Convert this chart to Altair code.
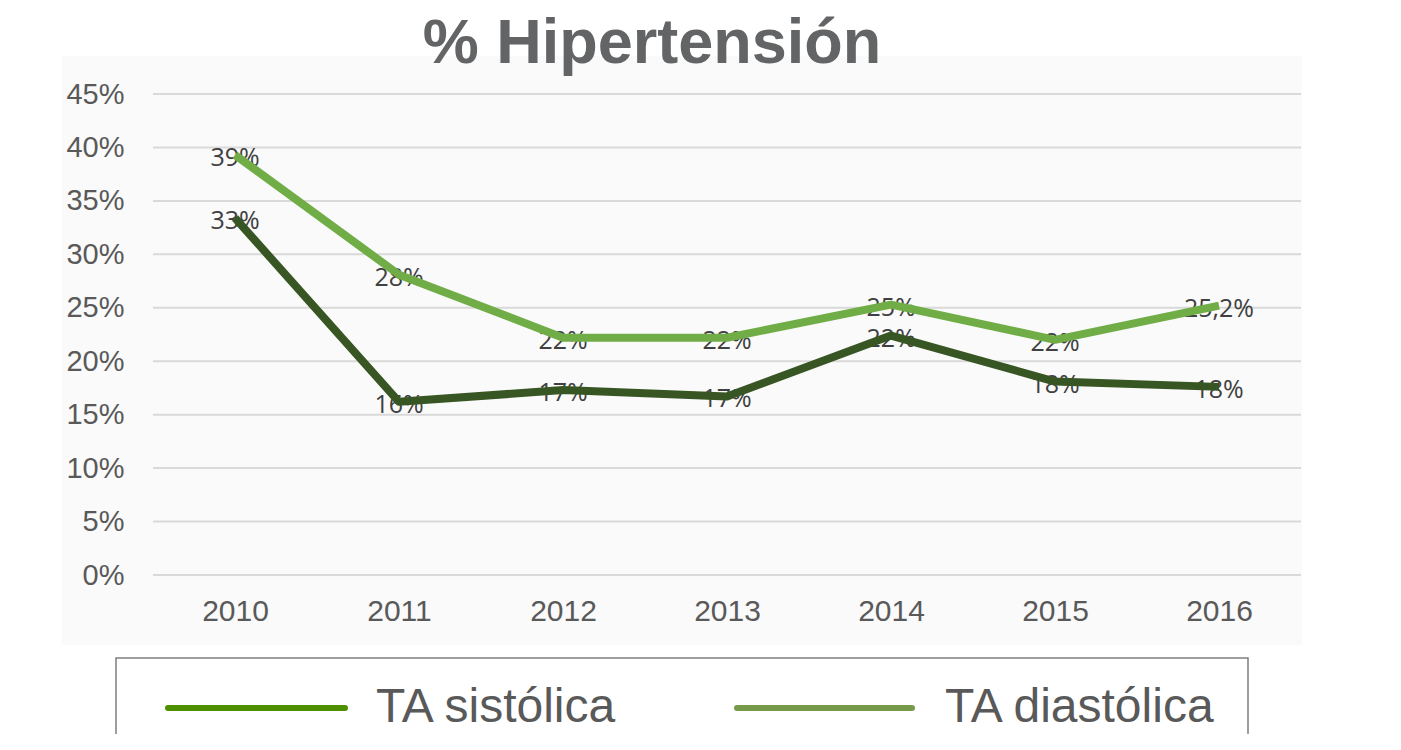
import altair as alt
import pandas as pd

# ---- data ----
years = ["2010", "2011", "2012", "2013", "2014", "2015", "2016"]
sistolica = [0.334, 0.162, 0.173, 0.167, 0.224, 0.181, 0.176]
diastolica = [0.393, 0.281, 0.222, 0.222, 0.253, 0.220, 0.252]
sis_labels = ["33%", "16%", "17%", "17%", "22%", "18%", "18%"]
dia_labels = ["39%", "28%", "22%", "22%", "25%", "22%", "25,2%"]
series_names = ["TA sistólica", "TA diastólica"]
line_colors = ["#375623", "#70ad47"]
legend_colors = ["#4e8f00", "#77994a"]
y_ticks = [0, 0.05, 0.10, 0.15, 0.20, 0.25, 0.30, 0.35, 0.40, 0.45]
title_text = ["% Hipertensión"]

rows = []
for i, yr in enumerate(years):
    rows.append({"year": yr, "serie": series_names[1], "value": diastolica[i], "label": dia_labels[i]})
    rows.append({"year": yr, "serie": series_names[0], "value": sistolica[i], "label": sis_labels[i]})
df = pd.DataFrame(rows)

W, H = 1148, 481
GRAY = "#595959"

xs = alt.Scale(type="point", padding=0.5, domain=years)
ys = alt.Scale(domain=[0, 0.45], nice=False)

x_axis = alt.Axis(title=None, labelAngle=0, labelFontSize=30, labelColor=GRAY,
                  labelFont="Liberation Sans", labelPadding=21, ticks=False, tickSize=0,
                  domain=False, grid=False, zindex=1)
y_axis = alt.Axis(title=None, values=y_ticks, format=".0%", labelFontSize=29,
                  labelColor=GRAY, labelFont="Liberation Sans", labelPadding=29,
                  ticks=False, tickSize=0, domain=False, grid=False, zindex=1)

x_enc = alt.X("year:O", scale=xs, axis=x_axis)
y_enc = alt.Y("value:Q", scale=ys, axis=y_axis)
color_enc = alt.Color("serie:N", scale=alt.Scale(domain=series_names, range=line_colors), legend=None)

one = pd.DataFrame({"k": [0]})

panel = alt.Chart(one).mark_rect(fill="#fafafa").encode(
    x=alt.value(-91), x2=alt.value(1149), y=alt.value(-38), y2=alt.value(551)
)

grid = alt.Chart(pd.DataFrame({"value": y_ticks})).mark_rule(color="#d9d9d9", strokeWidth=2).encode(
    y=y_enc, x=alt.value(0), x2=alt.value(W)
)

labels = alt.Chart(df).mark_text(
    font="Open Sans", fontSize=25, color="#404040", baseline="middle", align="center", dy=3
).encode(x=x_enc, y=y_enc, text="label:N")

lines = alt.Chart(df).mark_line(strokeWidth=8, strokeJoin="round").encode(
    x=x_enc, y=y_enc, color=color_enc, order=alt.Order("year:O")
)

title = alt.Chart(pd.DataFrame({"t": title_text})).mark_text(
    font="Liberation Sans", fontSize=63, fontWeight="bold", color="#636466",
    align="center", baseline="alphabetic"
).encode(x=alt.value(499), y=alt.value(-31), text="t:N")

legend_box = alt.Chart(one).mark_rect(fill=None, stroke="#7f7f7f", strokeWidth=1.5).encode(
    x=alt.value(-37), x2=alt.value(1095), y=alt.value(564), y2=alt.value(720)
)

leg_sis = alt.Chart(pd.DataFrame({"s": [series_names[0]]})).mark_rule(
    color=legend_colors[0], strokeWidth=6, strokeCap="round"
).encode(x=alt.value(15), x2=alt.value(192), y=alt.value(614))
leg_dia = alt.Chart(pd.DataFrame({"s": [series_names[1]]})).mark_rule(
    color=legend_colors[1], strokeWidth=6, strokeCap="round"
).encode(x=alt.value(584), x2=alt.value(759), y=alt.value(614))

leg_txt_sis = alt.Chart(pd.DataFrame({"s": [series_names[0]]})).mark_text(
    font="Liberation Sans", fontSize=48, color=GRAY, align="left", baseline="alphabetic"
).encode(x=alt.value(223), y=alt.value(628), text="s:N")
leg_txt_dia = alt.Chart(pd.DataFrame({"s": [series_names[1]]})).mark_text(
    font="Liberation Sans", fontSize=48, color=GRAY, align="left", baseline="alphabetic"
).encode(x=alt.value(792), y=alt.value(628), text="s:N")

chart = alt.layer(
    panel, grid, labels, lines, title, legend_box, leg_sis, leg_dia, leg_txt_sis, leg_txt_dia
).resolve_scale(y="shared").properties(
    width=W, height=H,
    autosize=alt.AutoSizeParams(type="none"),
    padding={"left": 145, "top": 86, "right": 92, "bottom": 159},
).configure_view(stroke=None)

chart.save("out.html", embed_options={"renderer": "svg", "actions": False})
